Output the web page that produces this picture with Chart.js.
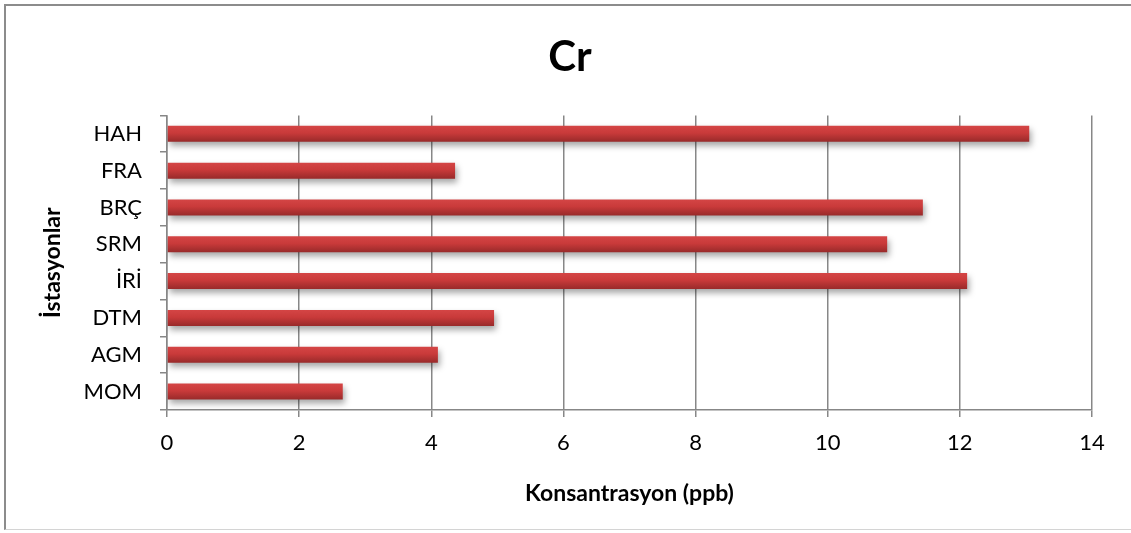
<!DOCTYPE html>
<html>
<head>
<meta charset="utf-8">
<script src="https://cdn.jsdelivr.net/npm/chart.js@4/dist/chart.umd.min.js"></script>
<style>
  body { margin: 0; background: #fff; overflow: hidden; }
  #wrap { position: relative; width: 1131px; height: 533px; }
  #frame {
    position: absolute; left: 4px; top: 4px; width: 1140px; height: 526px;
    border-left: 2px solid #8c8c8c; border-top: 2px solid #8c8c8c;
    border-bottom: 1px solid #d4d4d4; box-sizing: border-box;
  }
  canvas { position: absolute; left: 0; top: 0; }
</style>
</head>
<body>
<div id="wrap">
  <div id="frame"></div>
  <canvas id="chart" width="1131" height="533"></canvas>
</div>
<script>
const stations = ["HAH", "FRA", "BRÇ", "SRM", "İRİ", "DTM", "AGM", "MOM"];
const crValues = [13.05, 4.36, 11.44, 10.90, 12.11, 4.95, 4.10, 2.66];
const xTicks = [0, 2, 4, 6, 8, 10, 12, 14];

const FONT = "Lato, 'Liberation Sans', sans-serif";
const GRID = "#878787";

function barFill(ctx) {
  const chart = ctx.chart;
  const y = chart.scales.y;
  if (!y || ctx.dataIndex === undefined) return "#c83838";
  const mid = y.getPixelForValue(ctx.dataIndex);
  if (!isFinite(mid)) return "#c83838";
  const half = 8;
  const g = chart.ctx.createLinearGradient(0, mid - half, 0, mid + half);
  g.addColorStop(0, "#d44545");
  g.addColorStop(0.45, "#c93a3a");
  g.addColorStop(1, "#982a2a");
  return g;
}

// soft shadow under the bars, like the office chart
const barShadow = {
  id: "barShadow",
  beforeDatasetsDraw(chart) {
    const c = chart.ctx;
    c.save();
    c.shadowColor = "rgba(0,0,0,0.35)";
    c.shadowBlur = 6;
    c.shadowOffsetX = 2;
    c.shadowOffsetY = 4;
  },
  afterDatasetsDraw(chart) {
    chart.ctx.restore();
  }
};

new Chart(document.getElementById("chart"), {
  type: "bar",
  data: {
    labels: stations,
    datasets: [{
      data: crValues,
      backgroundColor: barFill,
      borderWidth: 0,
      categoryPercentage: 1,
      barPercentage: 0.435
    }]
  },
  plugins: [barShadow],
  options: {
    indexAxis: "y",
    responsive: false,
    animation: false,
    // left padding moves the title centre to where the original has it
    layout: { padding: { left: 48, right: 39, top: 0, bottom: 0 } },
    plugins: {
      legend: { display: false },
      tooltip: { enabled: false },
      title: {
        display: true,
        text: "Cr",
        color: "#000",
        font: { family: FONT, size: 42, weight: "bold", lineHeight: 1.2 },
        padding: { top: 32, bottom: 33 }
      }
    },
    scales: {
      x: {
        min: 0,
        max: 14,
        afterBuildTicks: (s) => { s.ticks = xTicks.map(v => ({ value: v })); },
        afterFit: (s) => { s.height = 123; },
        grid: { color: GRID, lineWidth: 1.5, tickLength: 7 },
        border: { color: GRID, width: 1.5 },
        ticks: { color: "#000", padding: 13, font: { family: FONT, size: 22 } },
        title: {
          display: true,
          text: "Konsantrasyon (ppb)",
          color: "#000",
          font: { family: FONT, size: 23, weight: "bold", lineHeight: 1.2 },
          padding: { top: 0, bottom: 26 }
        }
      },
      y: {
        afterFit: (s) => { s.width = 119; },
        grid: { drawOnChartArea: false, color: GRID, lineWidth: 1.5, tickLength: 7 },
        border: { color: GRID, width: 1.5 },
        ticks: { color: "#000", padding: 18, font: { family: FONT, size: 22 } },
        title: {
          display: true,
          text: "İstasyonlar",
          color: "#000",
          font: { family: FONT, size: 23, weight: "bold", lineHeight: 1.2 },
          padding: { top: -9, bottom: 0 }
        }
      }
    }
  }
});
</script>
</body>
</html>
